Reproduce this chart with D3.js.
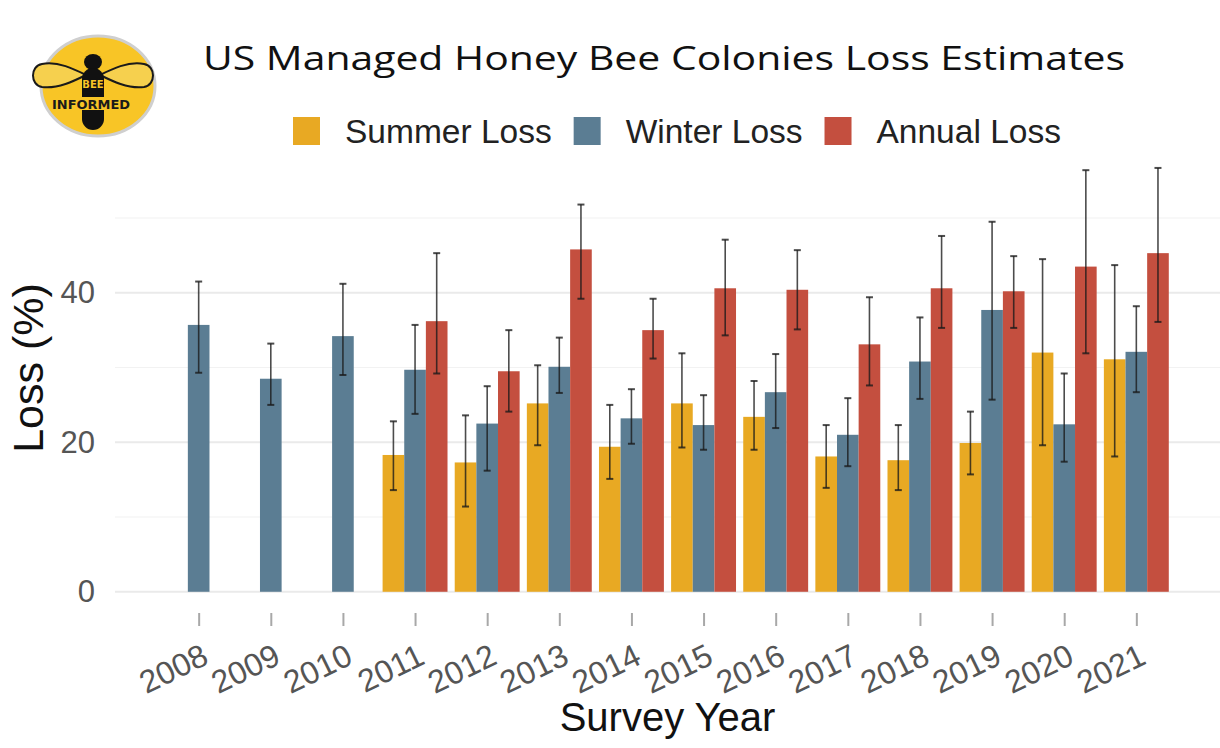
<!DOCTYPE html>
<html>
<head>
<meta charset="utf-8">
<script src="https://cdn.jsdelivr.net/npm/d3@7"></script>
<style>
  html, body { margin: 0; padding: 0; background: #ffffff; }
  svg { display: block; }
</style>
</head>
<body>
<svg id="chart" width="1220" height="748"></svg>
<script>
// ---------------- data ----------------
const years = [2008, 2009, 2010, 2011, 2012, 2013, 2014, 2015, 2016, 2017, 2018, 2019, 2020, 2021];
const seriesNames = ["Summer Loss", "Winter Loss", "Annual Loss"];

const summerLoss   = [null, null, null, 18.3, 17.3, 25.2, 19.4, 25.2, 23.4, 18.1, 17.6, 19.9, 32.0, 31.1];
const summerLow    = [null, null, null, 13.6, 11.4, 19.6, 15.1, 19.3, 19.0, 13.9, 13.6, 15.7, 19.6, 18.1];
const summerHigh   = [null, null, null, 22.8, 23.6, 30.3, 25.0, 31.9, 28.2, 22.3, 22.3, 24.1, 44.5, 43.7];

const winterLoss   = [35.7, 28.5, 34.2, 29.7, 22.5, 30.1, 23.2, 22.3, 26.7, 21.0, 30.8, 37.7, 22.4, 32.1];
const winterLow    = [29.3, 25.0, 29.0, 23.8, 16.2, 26.6, 19.8, 19.0, 21.9, 16.8, 25.8, 25.7, 17.4, 26.7];
const winterHigh   = [41.5, 33.2, 41.2, 35.7, 27.5, 34.0, 27.1, 26.3, 31.8, 25.9, 36.7, 49.5, 29.2, 38.2];

const annualLoss   = [null, null, null, 36.2, 29.5, 45.8, 35.0, 40.6, 40.4, 33.1, 40.6, 40.2, 43.5, 45.3];
const annualLow    = [null, null, null, 29.2, 24.1, 39.2, 31.2, 34.3, 35.1, 27.6, 35.3, 35.3, 31.9, 36.1];
const annualHigh   = [null, null, null, 45.3, 35.0, 51.8, 39.2, 47.1, 45.7, 39.4, 47.6, 44.9, 56.4, 56.7];

const yTickValues  = [0, 20, 40];
const yMinorValues = [10, 30, 50];

const titleText = "US Managed Honey Bee Colonies Loss Estimates";
const xTitle = "Survey Year";
const yTitle = "Loss (%)";

// ---------------- styles ----------------
const colors = { "Summer Loss": "#E8A923", "Winter Loss": "#5B7D93", "Annual Loss": "#C44F3F" };

const W = 1220, H = 748;
const panel = { left: 115, right: 1220, top: 147, bottom: 613 };

const svg = d3.select("#chart");
svg.append("rect").attr("width", W).attr("height", H).attr("fill", "#fff");

// build rows
const rows = [];
years.forEach((yr, i) => {
  const vals = [
    [summerLoss[i], summerLow[i], summerHigh[i]],
    [winterLoss[i], winterLow[i], winterHigh[i]],
    [annualLoss[i], annualLow[i], annualHigh[i]]
  ];
  seriesNames.forEach((s, j) => {
    if (vals[j][0] != null) rows.push({ year: yr, series: s, value: vals[j][0], lo: vals[j][1], hi: vals[j][2] });
  });
});

// ---------------- scales ----------------
const x = d3.scalePoint().domain(years).range([panel.left, panel.right]).padding(1.16);
const step = x.step();
const inner = d3.scaleBand().domain(seriesNames).range([-0.45 * step, 0.45 * step]).padding(0);
const y = d3.scaleLinear().domain([-2.84, 59.5]).range([panel.bottom, panel.top]);

// ---------------- grid ----------------
const grid = svg.append("g");
grid.selectAll("line.minor").data(yMinorValues).join("line")
  .attr("class", "minor")
  .attr("x1", panel.left).attr("x2", panel.right)
  .attr("y1", d => y(d)).attr("y2", d => y(d))
  .attr("stroke", "#F2F2F2").attr("stroke-width", 1.2);
grid.selectAll("line.major").data(yTickValues).join("line")
  .attr("class", "major")
  .attr("x1", panel.left).attr("x2", panel.right)
  .attr("y1", d => y(d)).attr("y2", d => y(d))
  .attr("stroke", "#EAEAEA").attr("stroke-width", 2.2);

// ---------------- bars ----------------
const barW = inner.bandwidth();
svg.append("g").selectAll("rect").data(rows).join("rect")
  .attr("x", d => x(d.year) + inner(d.series))
  .attr("y", d => y(d.value))
  .attr("width", barW)
  .attr("height", d => y(0) - y(d.value))
  .attr("fill", d => colors[d.series]);

// ---------------- error bars ----------------
const eb = svg.append("g").attr("stroke", "#1a1a1a").attr("stroke-opacity", 0.78).attr("stroke-width", 1.6);
const cx = d => x(d.year) + inner(d.series) + barW / 2;
const capHalf = 3.5;
eb.selectAll("line.v").data(rows).join("line").attr("class", "v")
  .attr("x1", cx).attr("x2", cx).attr("y1", d => y(d.lo)).attr("y2", d => y(d.hi));
eb.selectAll("line.t").data(rows).join("line").attr("class", "t")
  .attr("x1", d => cx(d) - capHalf).attr("x2", d => cx(d) + capHalf)
  .attr("y1", d => y(d.hi)).attr("y2", d => y(d.hi)).attr("stroke-width", 2);
eb.selectAll("line.b").data(rows).join("line").attr("class", "b")
  .attr("x1", d => cx(d) - capHalf).attr("x2", d => cx(d) + capHalf)
  .attr("y1", d => y(d.lo)).attr("y2", d => y(d.lo)).attr("stroke-width", 2);

// ---------------- axes ----------------
const yAxis = svg.append("g").attr("transform", `translate(${panel.left},0)`)
  .call(d3.axisLeft(y).tickValues(yTickValues).tickSize(0).tickPadding(20).tickFormat(d3.format("d")));
yAxis.select(".domain").remove();
yAxis.selectAll("text")
  .attr("font-family", "'Liberation Sans', Arial, sans-serif")
  .attr("font-size", 31).attr("fill", "#555555");

const xAxis = svg.append("g").attr("transform", `translate(0,${panel.bottom})`)
  .call(d3.axisBottom(x).tickSize(13).tickPadding(0).tickFormat(d3.format("d")));
xAxis.select(".domain").remove();
xAxis.selectAll(".tick line").attr("stroke", "#A8A8A8").attr("stroke-width", 2);
xAxis.selectAll("text")
  .attr("font-family", "'Liberation Sans', Arial, sans-serif")
  .attr("font-size", 32).attr("fill", "#555555")
  .attr("text-anchor", "end")
  .attr("x", 0).attr("y", 0).attr("dy", 0)
  .attr("transform", "translate(11,50) rotate(-26)");

// axis titles
svg.append("text")
  .attr("x", (panel.left + panel.right) / 2).attr("y", 731)
  .attr("text-anchor", "middle")
  .attr("font-family", "'Liberation Sans', Arial, sans-serif")
  .attr("font-size", 40).attr("fill", "#111")
  .text(xTitle);

svg.append("text")
  .attr("transform", "translate(43,368) rotate(-90)")
  .attr("text-anchor", "middle")
  .attr("font-family", "'Liberation Sans', Arial, sans-serif")
  .attr("font-size", 43).attr("fill", "#111")
  .text(yTitle);

// ---------------- title ----------------
const title = svg.append("text")
  .attr("x", 203).attr("y", 70)
  .attr("font-family", "'Open Sans', 'Noto Sans', sans-serif")
  .attr("font-size", 32.5).attr("fill", "#111")
  .text(titleText);
const tw = title.node().getComputedTextLength();
if (Math.abs(tw - 922) > 4) title.attr("textLength", 922).attr("lengthAdjust", "spacingAndGlyphs");

// ---------------- legend ----------------
const legend = svg.append("g");
let lx = 293;
seriesNames.forEach(s => {
  legend.append("rect").attr("x", lx).attr("y", 117).attr("width", 27).attr("height", 28).attr("fill", colors[s]);
  const t = legend.append("text")
    .attr("x", lx + 52).attr("y", 143)
    .attr("font-family", "'Liberation Sans', Arial, sans-serif")
    .attr("font-size", 33.5).attr("fill", "#222")
    .text(s);
  lx = lx + 52 + t.node().getComputedTextLength() + 22;
});

// ---------------- logo ----------------
const logo = svg.append("g");
logo.append("ellipse").attr("cx", 98).attr("cy", 86).attr("rx", 57).attr("ry", 50)
  .attr("fill", "#F8C526").attr("stroke", "#CFCFCF").attr("stroke-width", 3);
// wings
const wingPath = "M 0 0 C -12 -6, -28 -14, -44 -11 C -56 -9, -56 10, -44 12 C -28 14, -12 6, 0 0 Z";
logo.append("path").attr("d", wingPath).attr("transform", "translate(86,75)")
  .attr("fill", "#F6D04E").attr("stroke", "#1a1a1a").attr("stroke-width", 2);
logo.append("path").attr("d", wingPath).attr("transform", "translate(100,75) scale(-1,1)")
  .attr("fill", "#F6D04E").attr("stroke", "#1a1a1a").attr("stroke-width", 2);
// body
logo.append("ellipse").attr("cx", 93).attr("cy", 62).attr("rx", 9).attr("ry", 8).attr("fill", "#111");
logo.append("rect").attr("x", 82).attr("y", 68).attr("width", 22).attr("height", 62).attr("rx", 11).attr("fill", "#111");
logo.append("rect").attr("x", 82).attr("y", 97).attr("width", 22).attr("height", 13).attr("fill", "#F8C526");
logo.append("text").attr("x", 93).attr("y", 88).attr("text-anchor", "middle")
  .attr("font-family", "'DejaVu Sans', sans-serif").attr("font-weight", "bold")
  .attr("font-size", 10).attr("fill", "#F8C526").text("BEE");
logo.append("text").attr("x", 91).attr("y", 109).attr("text-anchor", "middle")
  .attr("font-family", "'DejaVu Sans', sans-serif").attr("font-weight", "bold")
  .attr("font-size", 12.5).attr("fill", "#1a1a1a").attr("textLength", 78).attr("lengthAdjust", "spacingAndGlyphs")
  .text("INFORMED");
</script>
</body>
</html>
